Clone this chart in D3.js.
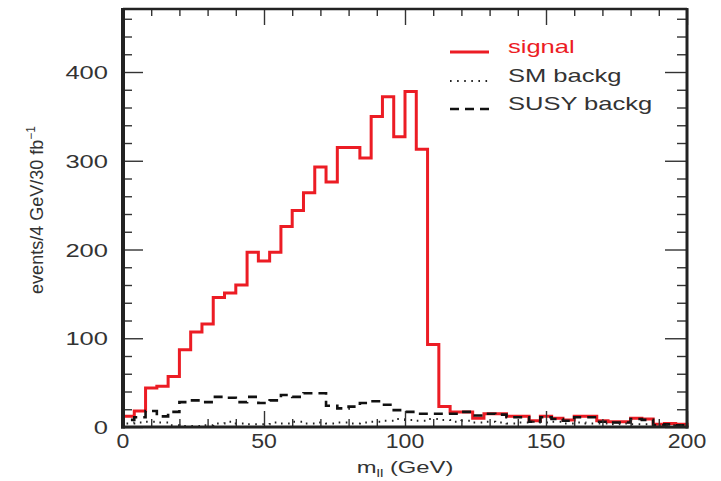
<!DOCTYPE html>
<html>
<head>
<meta charset="utf-8">
<script src="https://cdn.jsdelivr.net/npm/d3@7"></script>
<style>
  body { margin: 0; background: #fff; }
  svg text { font-family: "Liberation Sans", Arial, Helvetica, sans-serif; fill: #333; }
</style>
</head>
<body>
<div id="chart"></div>
<script>
// bins of 4 GeV, 0..200
const binWidth = 4;
const signal = [12, 18, 44, 46, 57, 87, 107, 116, 146, 151,
                160, 197, 187, 197, 226, 244, 264, 293, 276, 315,
                315, 303, 350, 372, 327, 378, 313, 93, 23, 17,
                17, 10, 15, 15, 12, 12, 7, 12, 10, 8,
                12, 12, 7, 6, 6, 10, 9, 3, 4, 3];
const susyBkg = [8, 11, 18, 12, 17, 28, 30, 28, 34, 33,
                 28, 34, 27, 30, 36, 34, 38, 38, 24, 21,
                 23, 27, 29, 25, 19, 17, 15, 15, 15, 15,
                 17, 13, 15, 14, 11, 11, 6, 11, 9, 7,
                 11, 11, 6, 5, 5, 9, 8, 2, 3, 2];
const smBkg = [4, 5, 6, 5, 2, 1, 1, 2, 4, 6,
               4, 3, 3, 5, 4, 6, 4, 5, 4, 5,
               4, 5, 6, 7, 9, 8, 7, 9, 8, 6,
               7, 5, 6, 5, 4, 5, 6, 5, 6, 4,
               5, 4, 4, 3, 4, 3, 3, 2, 2, 2];

const xMajor = [0, 50, 100, 150, 200];
const yMajor = [0, 100, 200, 300, 400];
const legendNames = ["signal", "SM backg", "SUSY backg"];

const config = { width: 721, height: 481, left: 123, right: 687, top: 9, bottom: 427 };

const svg = d3.select("#chart").append("svg")
    .attr("width", config.width)
    .attr("height", config.height);

const x = d3.scaleLinear().domain([0, 200]).range([config.left, config.right]);
const y = d3.scaleLinear().domain([0, 471]).range([config.bottom, config.top]);

// histogram outline as a step path
function histPath(vals) {
    let pts = [[0, 0]];
    vals.forEach((v, i) => {
        pts.push([i * binWidth, v]);
        pts.push([(i + 1) * binWidth, v]);
    });
    pts.push([vals.length * binWidth, 0]);
    return d3.line().x(d => x(d[0])).y(d => y(d[1]))(pts);
}

const series = [
    { vals: smBkg,   color: "#222", width: 2,   dash: "1.6,5.5" },
    { vals: susyBkg, color: "#111", width: 2.6, dash: "9,6" },
    { vals: signal,  color: "#ec1c24", width: 3, dash: null }
];

// red drawn first so backgrounds sit over it in the tail
svg.append("path").attr("d", histPath(signal))
    .attr("fill", "none").attr("stroke", "#ec1c24").attr("stroke-width", 3);
svg.append("path").attr("d", histPath(susyBkg))
    .attr("fill", "none").attr("stroke", "#111").attr("stroke-width", 2.6)
    .attr("stroke-dasharray", "9,6");
svg.append("path").attr("d", histPath(smBkg))
    .attr("fill", "none").attr("stroke", "#222").attr("stroke-width", 2)
    .attr("stroke-dasharray", "1.6,5.5");

// ticks (inward on all four sides)
const xMinor = d3.range(0, 201, 10).filter(v => v % 50 != 0);
const yMinor = d3.range(0, 471, 20).filter(v => v % 100 != 0);

function tickAxis(axis, tr) {
    let g = svg.append("g").attr("transform", tr).call(axis);
    g.select(".domain").remove();
    g.selectAll("text").remove();
    g.selectAll("line").attr("stroke", "#333").attr("stroke-width", 1.4);
}
tickAxis(d3.axisBottom(x).tickValues(xMajor).tickSize(-16), `translate(0,${config.bottom})`);
tickAxis(d3.axisBottom(x).tickValues(xMinor).tickSize(-8), `translate(0,${config.bottom})`);
tickAxis(d3.axisTop(x).tickValues(xMajor).tickSize(-16), `translate(0,${config.top})`);
tickAxis(d3.axisTop(x).tickValues(xMinor).tickSize(-7), `translate(0,${config.top})`);
tickAxis(d3.axisLeft(y).tickValues(yMajor).tickSize(-20), `translate(${config.left},0)`);
tickAxis(d3.axisLeft(y).tickValues(yMinor).tickSize(-9), `translate(${config.left},0)`);
tickAxis(d3.axisRight(y).tickValues(yMajor).tickSize(-22), `translate(${config.right},0)`);
tickAxis(d3.axisRight(y).tickValues(yMinor).tickSize(-10), `translate(${config.right},0)`);

// frame
svg.append("line").attr("x1", config.left).attr("x2", config.right)
    .attr("y1", config.top).attr("y2", config.top)
    .attr("stroke", "#222").attr("stroke-width", 2.5);
svg.append("line").attr("x1", config.left - 2).attr("x2", config.right + 1.5)
    .attr("y1", config.bottom).attr("y2", config.bottom)
    .attr("stroke", "#222").attr("stroke-width", 3);
svg.append("line").attr("x1", config.left).attr("x2", config.left)
    .attr("y1", config.top - 1).attr("y2", config.bottom + 1.5)
    .attr("stroke", "#222").attr("stroke-width", 4);
svg.append("line").attr("x1", config.right).attr("x2", config.right)
    .attr("y1", config.top - 1).attr("y2", config.bottom + 1.5)
    .attr("stroke", "#222").attr("stroke-width", 3);

// tick labels
svg.selectAll(".xlab").data(xMajor).enter().append("text")
    .attr("transform", d => `translate(${x(d)},448) scale(1.1,1)`)
    .attr("text-anchor", "middle")
    .style("font-size", "21px")
    .text(d => d);

svg.selectAll(".ylab").data(yMajor).enter().append("text")
    .attr("transform", d => `translate(108,${y(d) + 7}) scale(1.38,1)`)
    .attr("text-anchor", "end")
    .style("font-size", "18.5px")
    .text(d => d);

// axis titles
let xt = svg.append("text")
    .attr("transform", "translate(405,473) scale(1.4,1)")
    .attr("text-anchor", "middle")
    .style("font-size", "17px");
xt.append("tspan").text("m");
xt.append("tspan").attr("dy", 4).style("font-size", "11px").text("ll");
xt.append("tspan").attr("dy", -4).text(" (GeV)");

let yt = svg.append("text")
    .attr("transform", "translate(43,210) rotate(-90)")
    .attr("text-anchor", "middle")
    .style("font-size", "18px");
yt.append("tspan").text("events/4 GeV/30 fb");
yt.append("tspan").attr("dy", -8).style("font-size", "12px").text("−1");

// legend
const legendStyle = [
    { color: "#ec1c24", width: 3, dash: null, text: "#ec1c24" },
    { color: "#222", width: 2, dash: "1.6,5.5", text: "#333" },
    { color: "#111", width: 2.6, dash: "9,6", text: "#333" }
];
const legendY = [52, 81, 109];
legendNames.forEach((name, i) => {
    let s = legendStyle[i];
    svg.append("line")
        .attr("x1", 450).attr("x2", 489)
        .attr("y1", legendY[i]).attr("y2", legendY[i])
        .attr("stroke", s.color).attr("stroke-width", s.width)
        .attr("stroke-dasharray", s.dash);
    svg.append("text")
        .attr("transform", `translate(508,${legendY[i] + 1}) scale(1.38,1)`)
        .style("font-size", "18.5px")
        .style("fill", s.text)
        .text(name);
});
</script>
</body>
</html>
